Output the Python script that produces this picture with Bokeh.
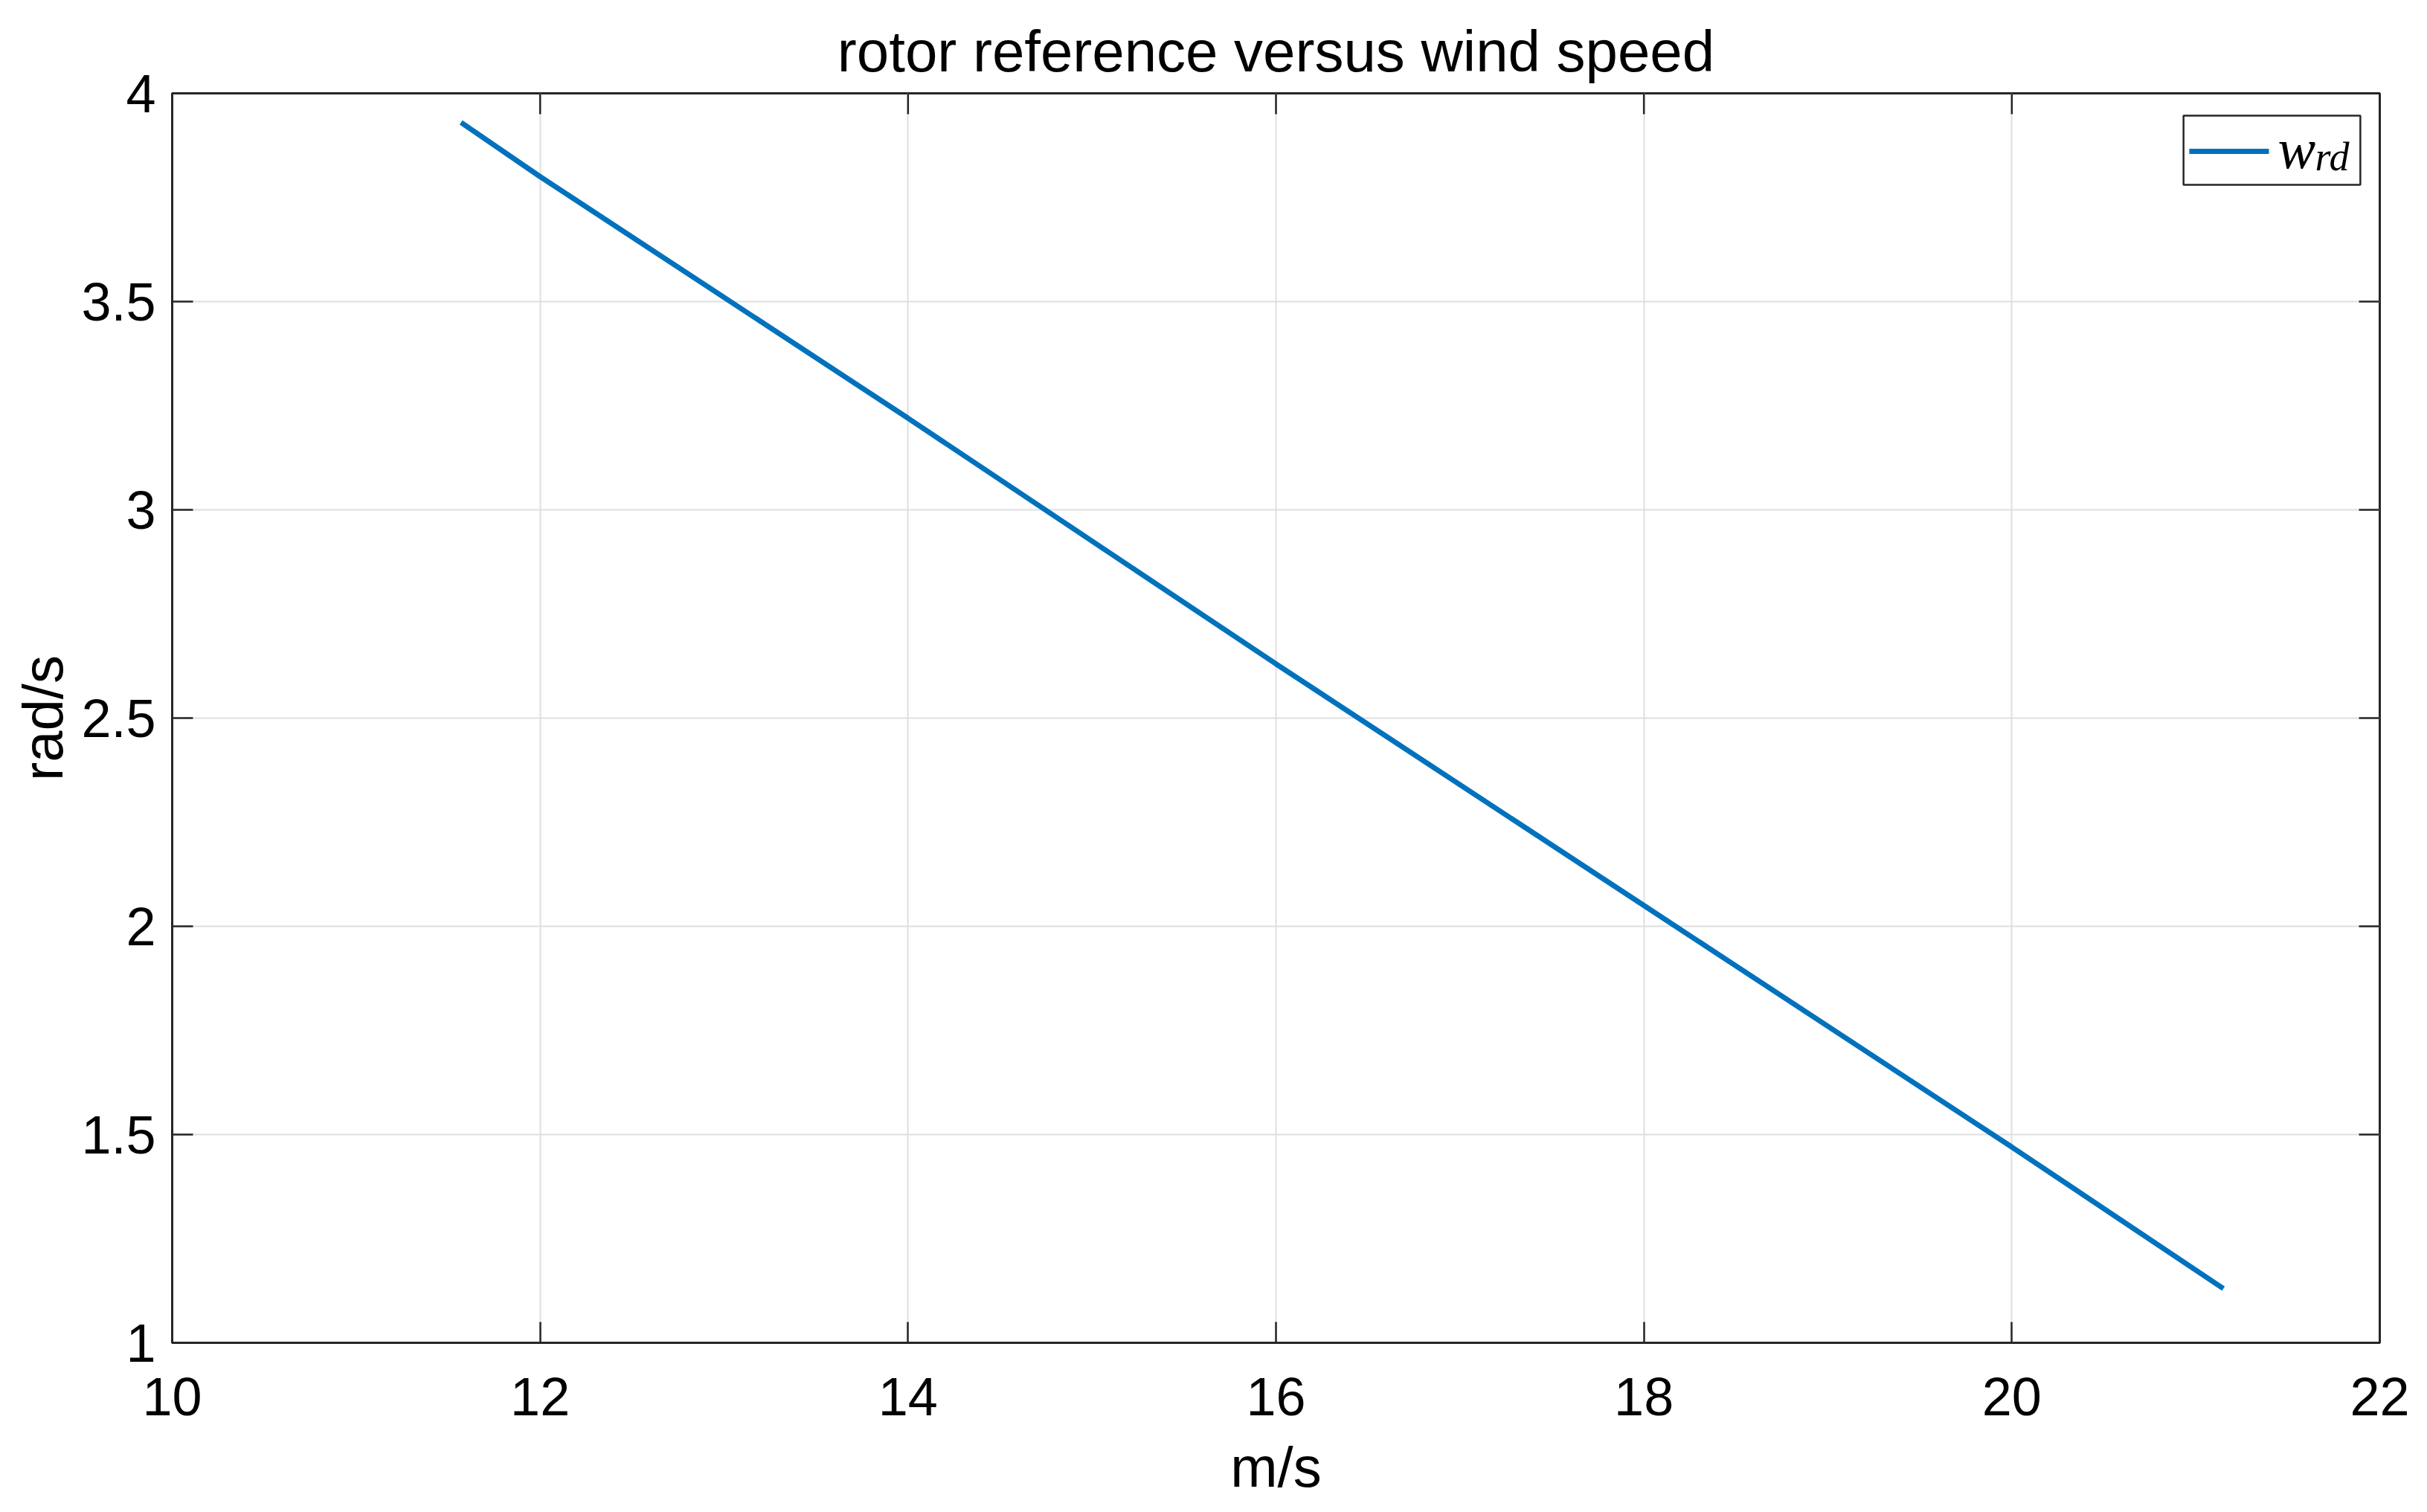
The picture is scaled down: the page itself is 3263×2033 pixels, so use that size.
from bokeh.plotting import figure
from bokeh.models import Range1d, FixedTicker, BoxAnnotation
from bokeh.core.properties import value
from bokeh.embed import file_html
from bokeh.resources import INLINE

# ---- data ----
wind_speed = [11.57, 12.0, 14.0, 16.0, 18.0, 20.0, 21.15]
rotor_ref = [3.93, 3.80, 3.22, 2.63, 2.05, 1.47, 1.13]

x_ticks = [10, 12, 14, 16, 18, 20, 22]
x_tick_labels = ["10", "12", "14", "16", "18", "20", "22"]
y_ticks = [1, 1.5, 2, 2.5, 3, 3.5, 4]
y_tick_labels = ["1", "1.5", "2", "2.5", "3", "3.5", "4"]

title_text = "rotor reference versus wind speed"
x_label = "m/s"
y_label = "rad/s"
legend_main = "w"
legend_sub = "rd"

X_MIN, X_MAX = 10, 22
Y_MIN, Y_MAX = 1, 4

FONT = "Liberation Sans"
AX_COLOR = "#262626"
LINE_COLOR = "#0072BD"

W, H = 3247, 2017
BL, BR, BT, BB = 231, 48, 125, 211
FRAME_W = W - BL - BR
FRAME_H = H - BT - BB
TICK_LEN = 28

p = figure(width=W, height=H,
           x_range=Range1d(X_MIN, X_MAX), y_range=Range1d(Y_MIN, Y_MAX),
           output_backend="svg", toolbar_location=None,
           min_border_left=BL, min_border_right=BR,
           min_border_top=BT, min_border_bottom=BB)
p.background_fill_color = "white"
p.border_fill_color = "white"
p.outline_line_color = AX_COLOR
p.outline_line_width = 3

p.title.text = title_text
p.title.text_font = FONT
p.title.text_font_size = "78px"
p.title.text_font_style = "normal"
p.title.text_color = "black"
p.title.align = "center"
p.title.standoff = 26

xt = FixedTicker(ticks=x_ticks)
yt = FixedTicker(ticks=y_ticks)

def style_axis(ax, ticker, overrides):
    ax.ticker = ticker
    ax.major_label_overrides = overrides
    ax.major_tick_in = TICK_LEN
    ax.major_tick_out = 0
    ax.minor_tick_in = 0
    ax.minor_tick_out = 0
    ax.major_tick_line_color = AX_COLOR
    ax.major_tick_line_width = 2.5
    ax.axis_line_color = AX_COLOR
    ax.axis_line_width = 3
    ax.major_label_text_font = FONT
    ax.major_label_text_color = "black"
    ax.major_label_text_font_size = "72px"
    ax.axis_label_text_font = FONT
    ax.axis_label_text_font_size = "76px"
    ax.axis_label_text_font_style = "normal"
    ax.axis_label_text_color = "black"

xo = {str(v): s for v, s in zip(x_ticks, x_tick_labels)}
yo = {str(v): s for v, s in zip(y_ticks, y_tick_labels)}

xa = p.xaxis[0]
style_axis(xa, xt, xo)
xa.major_label_standoff = 47
xa.axis_label = x_label
xa.axis_label_standoff = 24

ya = p.yaxis[0]
style_axis(ya, yt, yo)
ya.major_label_standoff = 22
ya.axis_label = y_label
ya.axis_label_standoff = 6

p.xgrid.ticker = xt
p.ygrid.ticker = yt
p.grid.grid_line_color = "#dfdfdf"
p.grid.grid_line_width = 2

# ticks on the top and right edges of the box (MATLAB "box on")
dx = TICK_LEN * (X_MAX - X_MIN) / FRAME_W
dy = TICK_LEN * (Y_MAX - Y_MIN) / FRAME_H
p.segment(x0=x_ticks, y0=[Y_MAX] * len(x_ticks), x1=x_ticks,
          y1=[Y_MAX - dy] * len(x_ticks), line_color=AX_COLOR, line_width=2.5)
p.segment(x0=[X_MAX] * len(y_ticks), y0=y_ticks, x1=[X_MAX - dx] * len(y_ticks),
          y1=y_ticks, line_color=AX_COLOR, line_width=2.5)

p.line(wind_speed, rotor_ref, line_color=LINE_COLOR, line_width=7)

# ---- legend (drawn by hand so the label can be w with subscript rd) ----
xs = X_MAX - X_MIN
ys = Y_MAX - Y_MIN
box = BoxAnnotation(left=X_MIN + 0.9111 * xs, right=X_MIN + 0.9912 * xs,
                    top=Y_MAX - 0.0178 * ys, bottom=Y_MAX - 0.0732 * ys,
                    fill_color="white", fill_alpha=1.0,
                    line_color=AX_COLOR, line_alpha=1.0, line_width=2.5,
                    level="annotation")
p.add_layout(box)
ly = Y_MAX - 0.0464 * ys
p.line([X_MIN + 0.9137 * xs, X_MIN + 0.9498 * xs], [ly, ly],
       line_color=LINE_COLOR, line_width=7, level="overlay")
p.text(x=[X_MIN + 0.9538 * xs], y=[Y_MAX - 0.0446 * ys], text=[legend_main],
       text_font=value("Liberation Serif"), text_font_style="italic",
       text_font_size="76px", text_color="black",
       text_align="left", text_baseline="alphabetic", level="overlay")
p.text(x=[X_MIN + 0.9707 * xs], y=[Y_MAX - 0.0506 * ys], text=[legend_sub],
       text_font=value("Liberation Serif"), text_font_style="italic",
       text_font_size="54px", text_color="black",
       text_align="left", text_baseline="alphabetic", level="overlay")

open("out.html", "w").write(file_html(p, INLINE))
